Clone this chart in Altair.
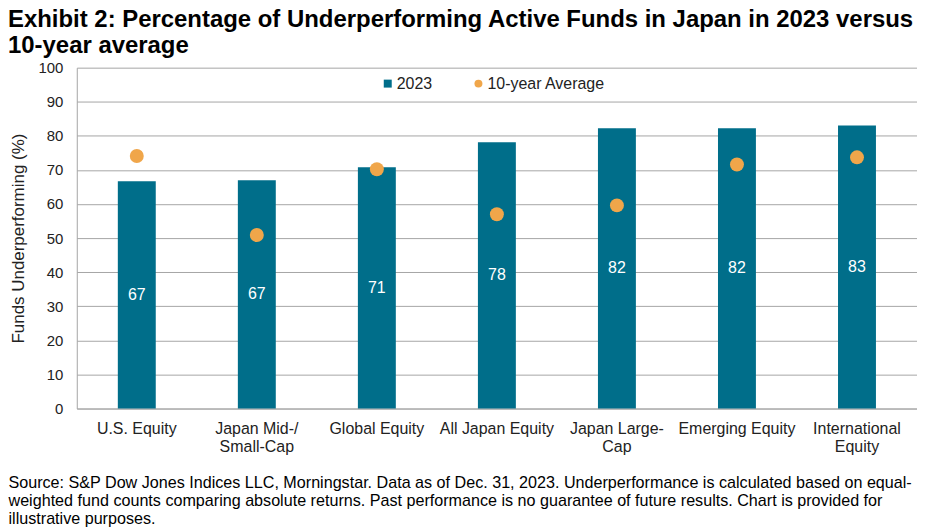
import altair as alt
import pandas as pd

FONT = "Liberation Sans, Arial, sans-serif"
BLUE = "#006E8A"
ORANGE = "#F0A64A"

categories = ["U.S. Equity", "Japan Mid-/|Small-Cap", "Global Equity", "All Japan Equity",
              "Japan Large-|Cap", "Emerging Equity", "International|Equity"]
values_2023 = [66.7, 67.0, 70.8, 78.1, 82.2, 82.2, 83.0]
avg_10yr = [74.1, 50.9, 70.2, 57.0, 59.6, 71.6, 73.7]
series_names = ["2023", "10-year Average"]
y_ticks = [0, 10, 20, 30, 40, 50, 60, 70, 80, 90, 100]

title_lines = ["Exhibit 2: Percentage of Underperforming Active Funds in Japan in 2023 versus",
               "10-year average"]
footer_lines = ["Source: S&P Dow Jones Indices LLC, Morningstar. Data as of Dec. 31, 2023. Underperformance is calculated based on equal-",
                "weighted fund counts comparing absolute returns. Past performance is no guarantee of future results. Chart is provided for",
                "illustrative purposes."]

bars_df = pd.DataFrame({"cat": categories, "value": values_2023, "series": series_names[0]})
pts_df = pd.DataFrame({"cat": categories, "value": avg_10yr, "series": series_names[1]})

x_axis = alt.Axis(title=footer_lines, labelExpr="split(datum.label, '|')",
                  labelAngle=0, labelFontSize=16, labelFont=FONT, labelColor="#222222",
                  labelPadding=12, labelLineHeight=18, ticks=False,
                  domainColor="#A6A6A6", domainWidth=1,
                  titleX=-69, titleY=66, titleAlign="left", titleBaseline="top",
                  titleFont=FONT, titleFontSize=16.2, titleFontWeight="normal",
                  titleColor="#000000", titleLineHeight=18, titleAnchor="start")
x_scale = alt.Scale(paddingInner=0.684, paddingOuter=0.342)

y_axis = alt.Axis(title="Funds Underperforming (%)", values=y_ticks, tickCount=len(y_ticks) + 2,
                  labelOverlap=False,
                  labelFontSize=15, labelFont=FONT, labelColor="#222222",
                  labelPadding=14, ticks=False, domainColor="#A6A6A6",
                  grid=True, gridColor="#A6A6A6", gridWidth=1,
                  titleFont=FONT, titleFontSize=17, titleFontWeight="normal",
                  titleColor="#222222", titlePadding=10)
y_scale = alt.Scale(domain=[0, 100], nice=False)

def xe():
    return alt.X("cat:N", sort=categories, scale=x_scale, axis=x_axis)

legend = alt.Legend(title=None, orient="none", direction="horizontal", legendX=304, legendY=8,
                    labelFont=FONT, labelFontSize=16, labelColor="#222222",
                    symbolSize=64, labelOffset=1, columnPadding=38, padding=0)

color_scale = alt.Scale(domain=series_names, range=[BLUE, ORANGE])
shape_scale = alt.Scale(domain=series_names, range=["square", "circle"])

bars = alt.Chart(bars_df).mark_bar(color=BLUE).encode(
    x=xe(),
    y=alt.Y("value:Q", scale=y_scale, axis=y_axis),
    color=alt.Color("series:N", scale=color_scale, legend=legend),
)

labels = alt.Chart(bars_df).transform_calculate(mid="datum.value / 2").mark_text(
    color="white", fontSize=16, font=FONT, baseline="middle"
).encode(
    x=xe(),
    y=alt.Y("mid:Q", scale=y_scale, axis=y_axis),
    text=alt.Text("value:Q", format=".0f"),
)

points = alt.Chart(pts_df).mark_point(filled=True, opacity=1, size=196).encode(
    x=xe(),
    y=alt.Y("value:Q", scale=y_scale, axis=y_axis),
    color=alt.Color("series:N", scale=color_scale, legend=legend),
    shape=alt.Shape("series:N", scale=shape_scale, legend=legend),
)

chart = alt.layer(bars, labels, points).properties(
    width=843, height=342,
    autosize=alt.AutoSizeParams(type="none"),
    padding={"left": 69, "top": 59, "right": 0, "bottom": 122},
    title=alt.Title(text=title_lines, anchor="start", frame="group", dx=-69,
                    font=FONT, fontSize=24, fontWeight="bold", color="#000000",
                    lineHeight=25.5, offset=3),
).configure_view(stroke=None)

chart.save("out.html", embed_options={"renderer": "svg", "actions": False})
